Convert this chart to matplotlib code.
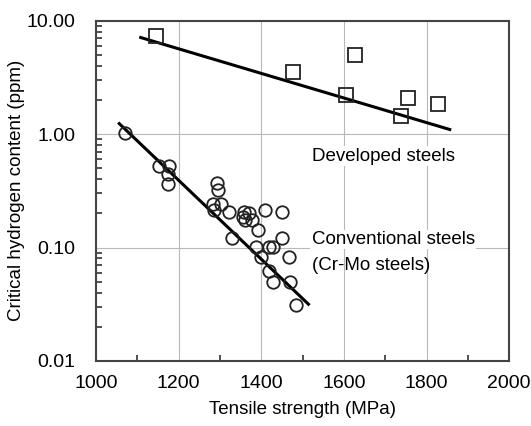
import matplotlib
matplotlib.use("Agg")
import matplotlib.pyplot as plt
import numpy as np
from matplotlib.ticker import FixedLocator, FuncFormatter, LogLocator, NullFormatter

plt.rcParams['font.family'] = ['Liberation Sans', 'DejaVu Sans']

# developed steels (squares)
dev_ts = [1146, 1476, 1627, 1604, 1755, 1738, 1827]
dev_h = [7.32, 3.55, 4.98, 2.24, 2.07, 1.44, 1.83]
dev_fit_ts = [1108, 1856]
dev_fit_h = [7.13, 1.10]

# conventional Cr-Mo steels (circles)
conv_ts = [1070, 1153, 1176, 1174, 1175, 1293, 1294, 1282, 1303, 1286,
           1321, 1358, 1371, 1356, 1360, 1377, 1410, 1449, 1393, 1329,
           1449, 1387, 1419, 1428, 1399, 1468, 1419, 1427, 1470, 1484]
conv_h = [1.03, 0.526, 0.526, 0.444, 0.36, 0.373, 0.325, 0.241, 0.241, 0.216,
          0.205, 0.206, 0.20, 0.184, 0.174, 0.174, 0.213, 0.205, 0.142, 0.122,
          0.122, 0.101, 0.101, 0.101, 0.083, 0.083, 0.062, 0.050, 0.050, 0.031]
conv_fit_ts = [1056, 1514]
conv_fit_h = [1.24, 0.0316]

xticks = [1000, 1200, 1400, 1600, 1800, 2000]
yticks = [0.01, 0.1, 1, 10]

fig = plt.figure(figsize=(5.31, 4.26), dpi=100)
ax = fig.add_axes([0.181, 0.153, 0.778, 0.798])

ax.plot(dev_fit_ts, dev_fit_h, color='black', lw=2.2, zorder=3)
ax.plot(conv_fit_ts, conv_fit_h, color='black', lw=2.2, zorder=3)
ax.plot(dev_ts, dev_h, 's', ms=9.5, mfc='none', mec='#222222', mew=1.3, zorder=4)
ax.plot(conv_ts, conv_h, 'o', ms=9, mfc='none', mec='#222222', mew=1.3, zorder=4)

ax.set_yscale('log')
ax.set_xlim(1000, 2000)
ax.set_ylim(0.01, 10)
ax.set_xticks(xticks)
ax.xaxis.set_minor_locator(FixedLocator([1100, 1300, 1500, 1700, 1900]))
ax.set_yticks(yticks)
ax.yaxis.set_major_formatter(FuncFormatter(lambda v, p: '%.2f' % v))
ax.yaxis.set_minor_locator(LogLocator(base=10, subs=np.arange(2, 10)))
ax.yaxis.set_minor_formatter(NullFormatter())

ax.grid(True, which='major', color='#b8b8b8', lw=0.8)
ax.tick_params(which='major', direction='in', length=0, labelsize=14)
ax.tick_params(axis='x', which='major', pad=10)
ax.tick_params(axis='y', which='major', pad=15)
ax.tick_params(which='minor', direction='in', length=4, width=1.2, color='#333333')
ax.tick_params(axis='x', which='minor', top=False)
for s in ax.spines.values():
    s.set_color('#444444')
    s.set_linewidth(1.5)

ax.set_xlabel('Tensile strength (MPa)', fontsize=13.5, labelpad=7)
ax.set_ylabel('Critical hydrogen content (ppm)', fontsize=13.5, labelpad=1)

ax.text(1522, 0.64, 'Developed steels', fontsize=13.5, va='center', ha='left',
        bbox=dict(fc='white', ec='none', pad=1))
ax.text(1522, 0.118, 'Conventional steels', fontsize=13.5, va='center', ha='left',
        bbox=dict(fc='white', ec='none', pad=1))
ax.text(1522, 0.07, '(Cr-Mo steels)', fontsize=13.5, va='center', ha='left')

fig.savefig('out.png', dpi=100)
